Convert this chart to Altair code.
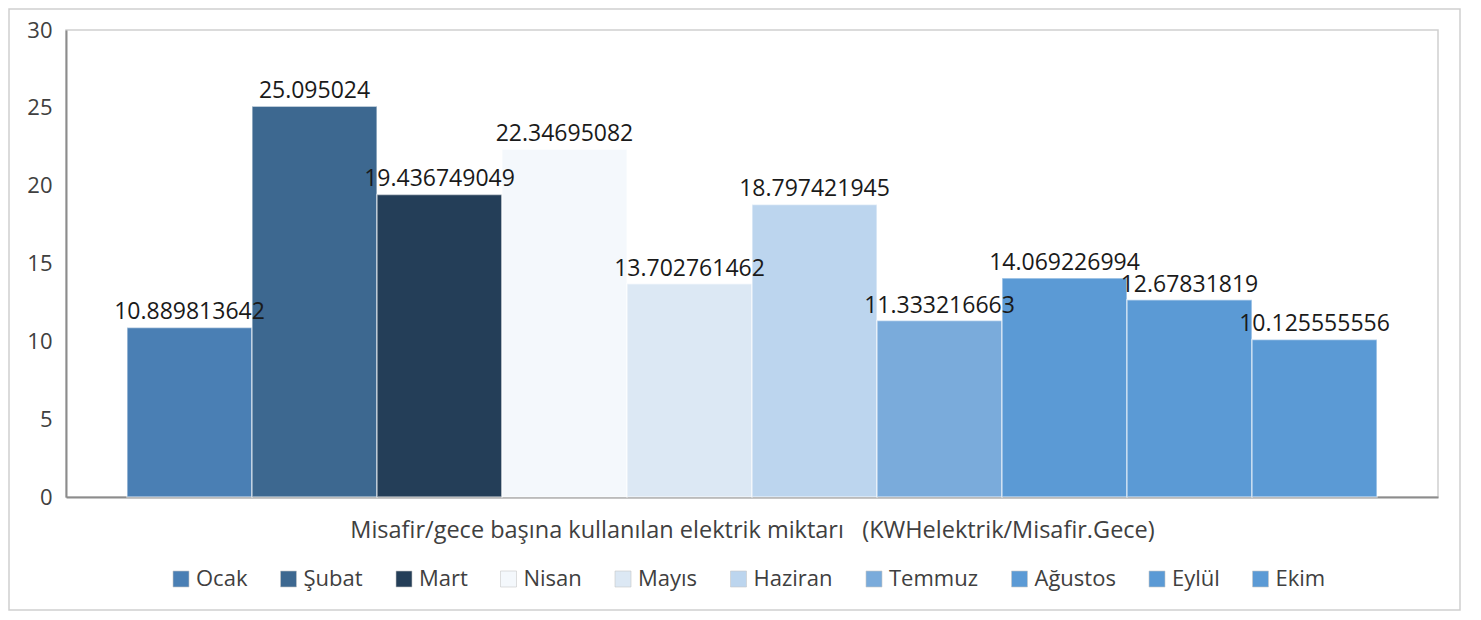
import altair as alt
import pandas as pd

months = ["Ocak", "Şubat", "Mart", "Nisan", "Mayıs", "Haziran",
          "Temmuz", "Ağustos", "Eylül", "Ekim"]
values = [10.889813642, 25.095024, 19.436749049, 22.34695082, 13.702761462,
          18.797421945, 11.333216663, 14.069226994, 12.67831819, 10.125555556]
colors = ["#4a7fb4", "#3d6890", "#243e58", "#f4f8fc", "#dce8f4",
          "#bcd5ee", "#7aabdb", "#5b9ad5", "#5b9ad5", "#5b9ad5"]
y_ticks = [0, 5, 10, 15, 20, 25, 30]
x_title = "Misafir/gece başına kullanılan elektrik miktarı\u00a0\u00a0\u00a0(KWHelektrik/Misafir.Gece)"

df = pd.DataFrame({"ay": months, "deger": values,
                   "etiket": [str(v) for v in values]})

FONT = "Open Sans"
TXT = "#404040"

x_enc = alt.X("ay:N", sort=months,
              scale=alt.Scale(domain=months, paddingInner=0, paddingOuter=0.488),
              axis=alt.Axis(labels=False, ticks=False, title=x_title,
                            titleFont=FONT, titleFontSize=23.5, titleFontWeight="normal",
                            titleColor=TXT, titlePadding=21,
                            domainColor="#8c8c8c", domainWidth=2))
y_enc = alt.Y("deger:Q", scale=alt.Scale(domain=[0, 30], nice=False),
              axis=alt.Axis(values=y_ticks, title=None, grid=False, ticks=False,
                            labelFont=FONT, labelFontSize=22, labelColor=TXT,
                            labelPadding=14, domainColor="#8c8c8c", domainWidth=2))

bars = alt.Chart(df).mark_bar(stroke="white", strokeOpacity=0.55, strokeWidth=1.5).encode(
    x=x_enc,
    y=y_enc,
    color=alt.Color("ay:N", sort=months,
                    scale=alt.Scale(domain=months, range=colors),
                    legend=alt.Legend(title=None, orient="none", direction="horizontal",
                                      columns=10, legendX=104, legendY=538,
                                      symbolType="square", symbolSize=256,
                                      symbolStrokeColor="#c8c8c8", symbolStrokeWidth=0.6,
                                      labelFont=FONT, labelFontSize=22, labelColor=TXT,
                                      labelOffset=4, columnPadding=29.5)),
)

labels = alt.Chart(df).mark_text(font=FONT, fontSize=23, color="#1a1a1a",
                                 baseline="alphabetic", dy=-8).encode(
    x=alt.X("ay:N", sort=months),
    y=alt.Y("deger:Q"),
    text="etiket:N",
)

frame = alt.Chart(pd.DataFrame({"k": [0]})).mark_rect(
    fill="transparent", stroke="#cfcfcf", strokeWidth=1.5).encode(
    x=alt.value(-57), x2=alt.value(1394), y=alt.value(-21), y2=alt.value(580))

chart = alt.layer(bars, labels, frame).properties(
    width=1372, height=467,
    autosize=alt.AutoSizeParams(type="none"),
    padding={"left": 58, "top": 22, "right": 35, "bottom": 115},
).configure_view(stroke="#d0d0d0", strokeWidth=1.5)

chart.save("out.html", embed_options={"renderer": "svg", "actions": False})
